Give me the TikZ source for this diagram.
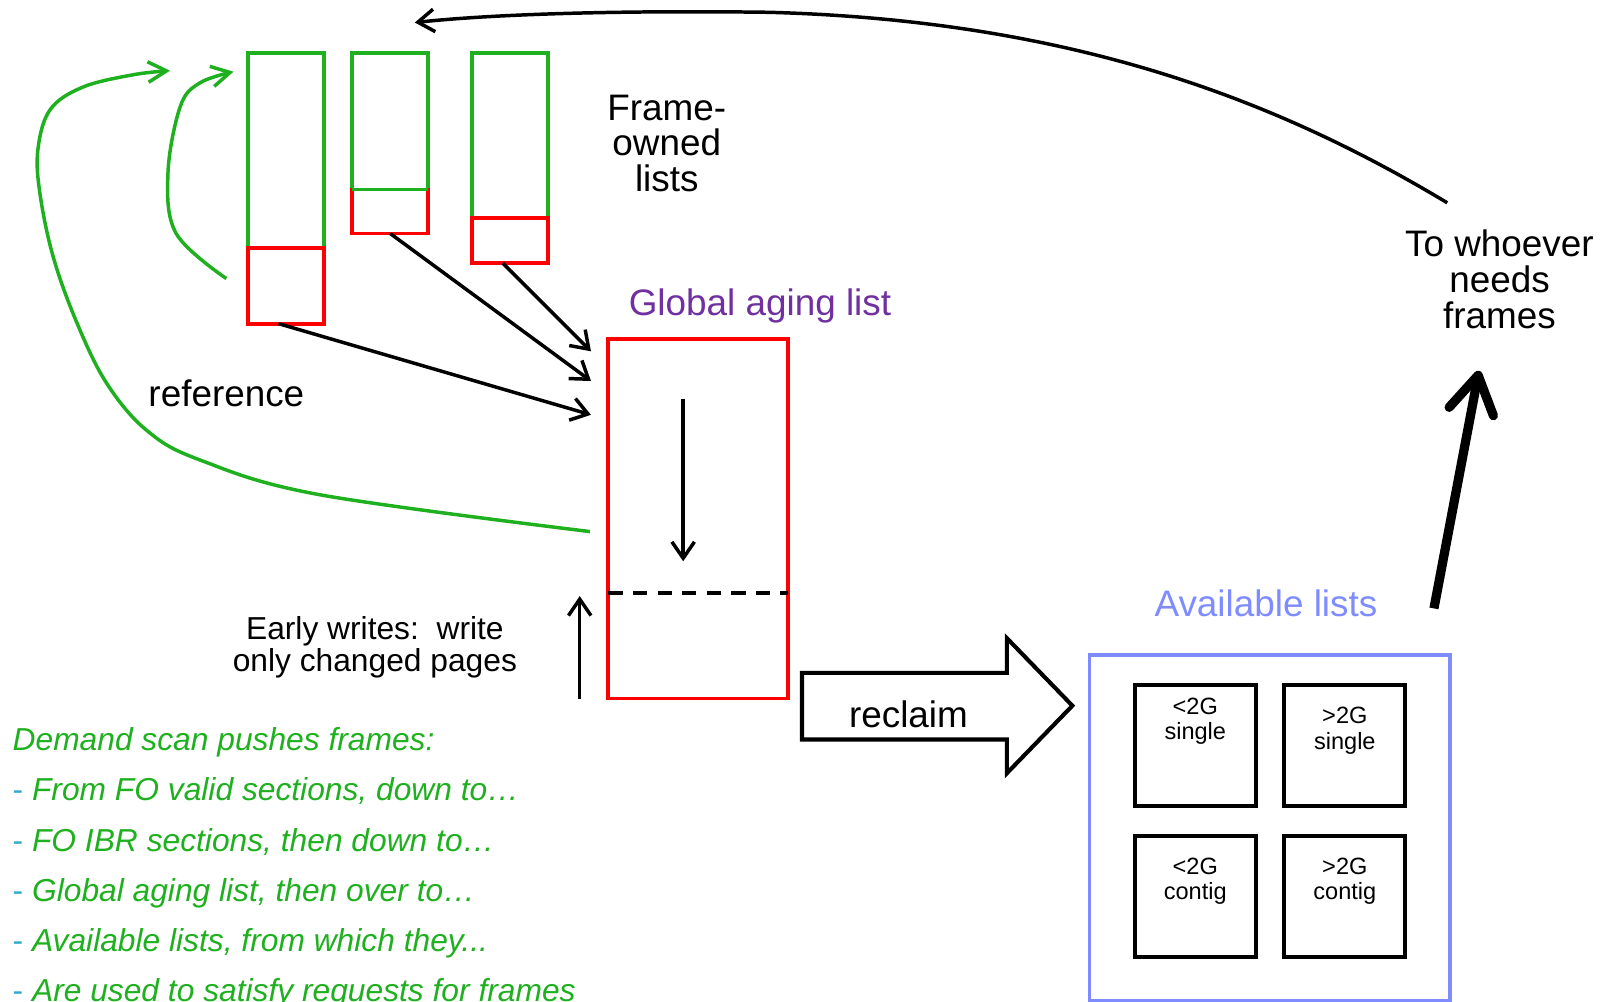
\documentclass[tikz,border=0pt]{standalone}
\usepackage{fontspec}
\setmainfont{Liberation Sans}
\usetikzlibrary{arrows.meta,positioning,calc}
\definecolor{FrameGreen}{HTML}{1FB01F}
\definecolor{AgingRed}{HTML}{FF0000}
\definecolor{AgingPurple}{HTML}{7030A0}
\definecolor{AvailBlue}{HTML}{7F8CFF}
\definecolor{DashTeal}{HTML}{33AACC}
\newcommand{\bigfont}{\fontsize{18}{17.5}\selectfont}
\newcommand{\midfont}{\fontsize{15.5}{15.5}\selectfont}
\newcommand{\boxfont}{\fontsize{11.5}{12.5}\selectfont}

\begin{document}
\begin{tikzpicture}[x=0.5pt,y=-0.5pt,
  lbl/.style={font=\bigfont,align=center,inner sep=0pt},
  listbox/.style={draw,line width=1.9pt,minimum width=37pt,anchor=north west,inner sep=0pt,outer sep=0pt},
  smallbox/.style={draw,line width=2pt,minimum size=59pt,anchor=north west,inner sep=0pt},
  boxlbl/.style={font=\boxfont,align=center,inner sep=0pt},
  flow/.style={line width=1.7pt,-{Straight Barb[length=8pt,width=11pt]}},
  back/.style={FrameGreen,line width=1.7pt,-{Straight Barb[length=9pt,width=10pt]}}]
 \useasboundingbox (0,0) rectangle (1568,978);
 % frame-owned lists
 \node[listbox,FrameGreen,minimum height=95pt] (fo1top) at (242,52) {};
 \node[listbox,FrameGreen,minimum height=66.5pt] (fo2top) at (344,52) {};
 \node[listbox,FrameGreen,minimum height=80.5pt] (fo3top) at (461,52) {};
 \node[listbox,AgingRed,minimum height=37pt] (fo1bot) at (242,242) {};
 \node[listbox,AgingRed,minimum height=21.5pt] (fo2bot) at (344,185) {};
 \node[listbox,AgingRed,minimum height=22pt] (fo3bot) at (461,213) {};
 \draw[FrameGreen,line width=1.9pt] (fo2top.south west) -- (fo2top.south east);
 \node[lbl] (fotitle) at (651,140) {Frame-\\owned\\lists};
 % global aging list
 \node[draw=AgingRed,line width=1.9pt,minimum width=87.5pt,minimum height=175.5pt,
   anchor=north west,inner sep=0pt,outer sep=0pt] (agl) at (594,331) {};
 \node[lbl,text=AgingPurple] (agltitle) at (742,299) {Global aging list};
 \draw[line width=2pt,dash pattern=on 7pt off 5pt]
   ($(agl.north west)+(0,248)$) -- ($(agl.north east)+(0,248)$);
 \draw[flow] ($(agl.north west)+(73,59)$) -- ($(agl.north west)+(73,217)$);
 \draw[flow] ($(agl.south west)+(-28,0)$) -- ($(agl.south west)+(-28,-100)$);
 \node[font=\midfont,align=center,inner sep=0pt] (early) at (366,632)
   {Early writes:\ \ write\\only changed pages};
 % into the aging list
 \coordinate (in1) at ($(agl.north west)+(-17,74)$);
 \coordinate (in2) at ($(agl.north west)+(-17,41)$);
 \coordinate (in3) at ($(agl.north west)+(-17,12)$);
 \draw[flow] ([xshift=-3.5pt]fo1bot.south) -- (in1);
 \draw[flow] (fo2bot.south) -- (in2);
 \draw[flow] ([xshift=-3.5pt]fo3bot.south) -- (in3);
 % references pull frames back
 \coordinate (refin) at ($(fo1bot.west)+(-21,-7)$);
 \draw[back] plot[smooth,tension=0.6] coordinates
   {(refin) (172,228) (164,169) (176,104) (195,81) (228,70)};
 \coordinate (aglref) at ($(agl.north west)+(-18,188)$);
 \draw[back] plot[smooth,tension=0.6] coordinates
   {(aglref) (312,483) (195,449) (143,420) (104,374) (75,315) (52,251)
    (39,189) (37,146) (49,107) (81,85) (130,73) (166,69)};
 \node[lbl] (ref) at (221,384) {reference};
 % reclaim
 \draw[line width=2pt] (783,657) -- (983,657) -- (983,623) -- (1047,689)
   -- (983,755) -- (983,722) -- (783,722) -- cycle;
 \node[lbl] (reclaim) at (887,697) {reclaim};
 % available lists
 \node[draw=AvailBlue,line width=1.7pt,minimum width=176pt,minimum height=168.5pt,
   anchor=north west,inner sep=0pt] (avail) at (1062,638) {};
 \node[lbl,text=AvailBlue] (availtitle) at (1236,589) {Available lists};
 \foreach \nm/\x/\y/\gap/\txt in {lt/1106/667/7/{<2G\\single},gt/1252/667/11.5/{>2G\\single},
   lc/1106/814/11.5/{<2G\\contig},gc/1252/814/11.5/{>2G\\contig}}{
   \node[smallbox] (\nm) at (\x,\y) {};
   \node[boxlbl,below=\gap pt of \nm.north] {\txt};}
 % to whoever needs frames
 \node[lbl] (whoever) at (1464,273) {To whoever\\needs\\frames};
 \coordinate (availout) at (1400,594);
 \coordinate (needin) at (1444,362);
 \draw[line width=4.5pt,-{Straight Barb[round,length=18pt,width=22pt]}] (availout) -- (needin);
 \coordinate (needout) at (1413,198);
 \coordinate (foin) at (405,22);
 \draw[flow] (needout) .. controls (1250,100) and (1050,20) .. (750,12)
   .. controls (600,10) and (480,14) .. (foin);
 % demand scan
 \node[anchor=base west,font=\midfont\itshape,text=FrameGreen,inner sep=0pt] (scan0)
   at (12,733) {Demand scan pushes frames:};
 \foreach \i/\txt in {1/{From FO valid sections, down to…},2/{FO IBR sections, then down to…},
   3/{Global aging list, then over to…},4/{Available lists, from which they...},
   5/{Are used to satisfy requests for frames}}{
   \node[anchor=base west,font=\midfont\itshape,text=FrameGreen,inner sep=0pt] (scan\i)
     at (12,{733+49*\i}) {{\color{DashTeal}\upshape -} \txt};}
\end{tikzpicture}
\end{document}
